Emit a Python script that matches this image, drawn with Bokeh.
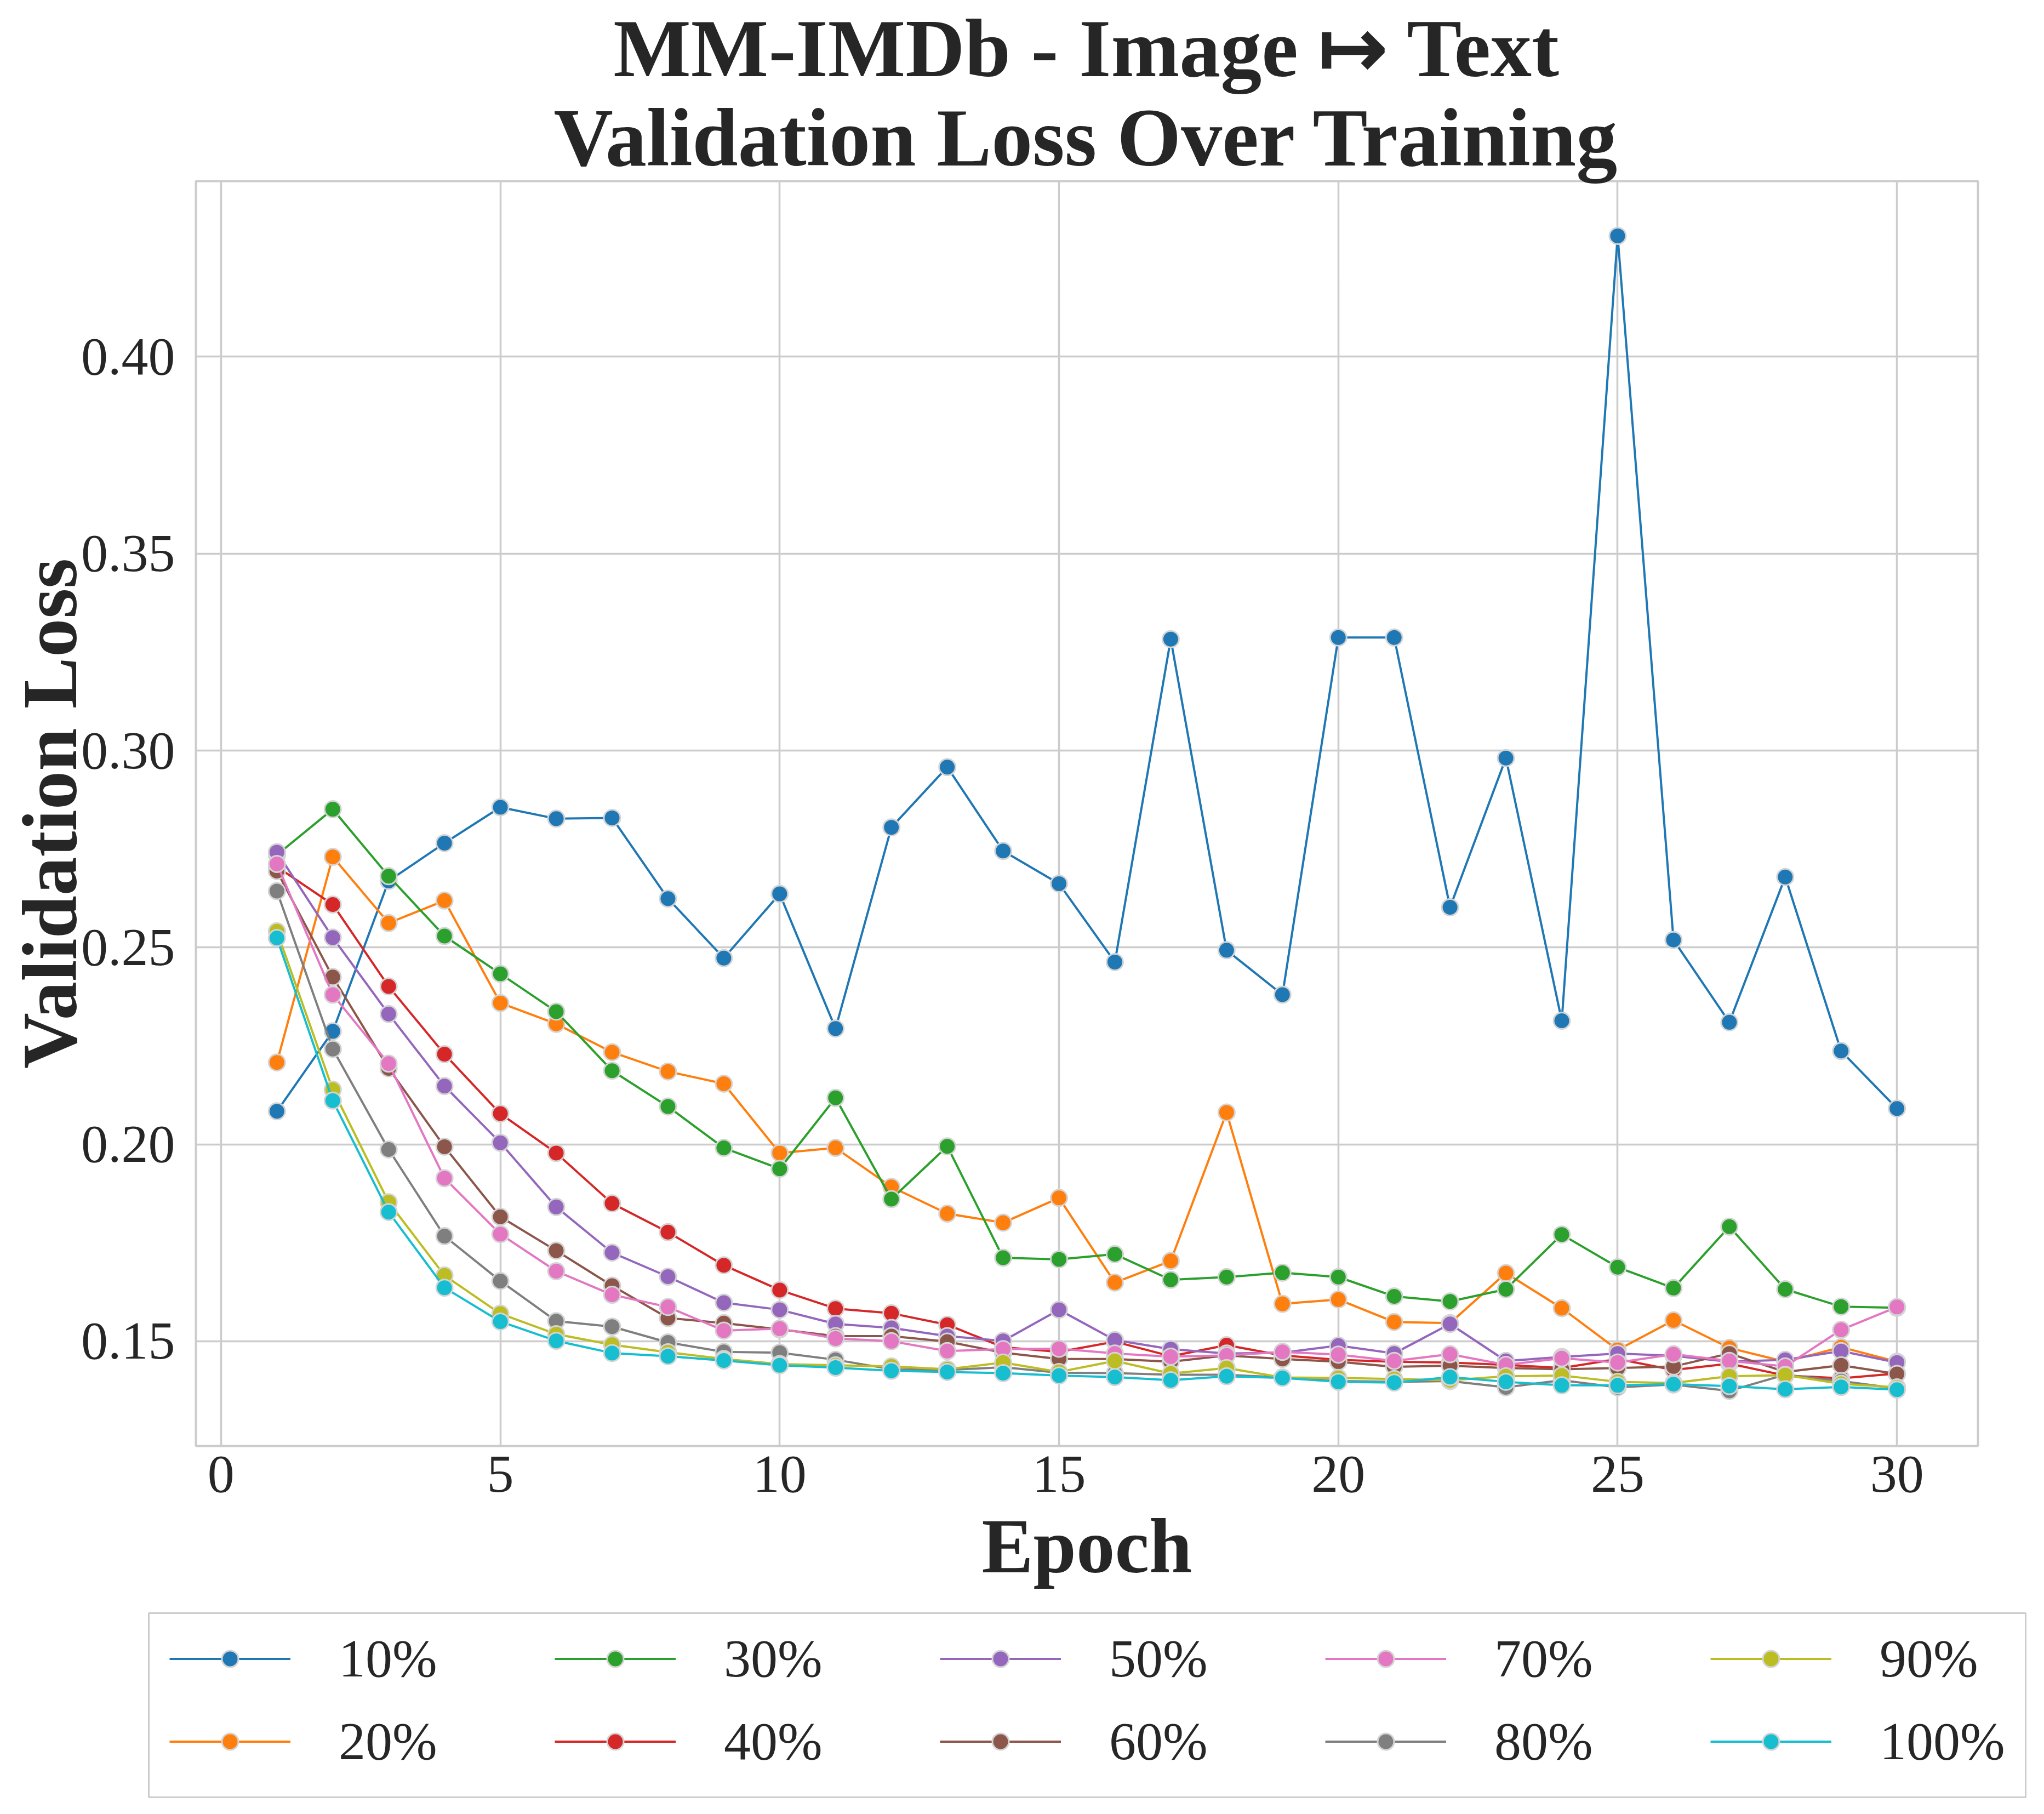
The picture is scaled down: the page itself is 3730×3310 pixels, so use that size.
from bokeh.plotting import figure
from bokeh.layouts import column
from bokeh.models import (Legend, LegendItem, Title, Range1d, FixedTicker, ColumnDataSource,
                          BoxAnnotation)
from bokeh.embed import file_html
from bokeh.resources import INLINE

# ---------------- data ----------------
epochs = list(range(1, 31))

loss_10 = [0.2084, 0.2287, 0.2669, 0.2765, 0.2856, 0.2827, 0.2829, 0.2624, 0.2473, 0.2636,
           0.2294, 0.2805, 0.2958, 0.2745, 0.2662, 0.2463, 0.3283, 0.2493, 0.2380, 0.3287,
           0.3287, 0.2602, 0.2981, 0.2314, 0.4307, 0.2519, 0.2310, 0.2679, 0.2237, 0.2091]
loss_20 = [0.2208, 0.2730, 0.2562, 0.2619, 0.2359, 0.2306, 0.2234, 0.2185, 0.2154, 0.1978,
           0.1991, 0.1892, 0.1824, 0.1801, 0.1864, 0.1649, 0.1704, 0.2081, 0.1595, 0.1606,
           0.1549, 0.1546, 0.1673, 0.1584, 0.1478, 0.1553, 0.1483, 0.1448, 0.1485, 0.1448]
loss_30 = [0.2735, 0.2851, 0.2681, 0.2529, 0.2433, 0.2337, 0.2187, 0.2096, 0.1991, 0.1938,
           0.2118, 0.1861, 0.1995, 0.1712, 0.1708, 0.1721, 0.1656, 0.1663, 0.1674, 0.1663,
           0.1614, 0.1601, 0.1632, 0.1771, 0.1688, 0.1635, 0.1791, 0.1632, 0.1588, 0.1585]
loss_40 = [0.2705, 0.2609, 0.2401, 0.2229, 0.2078, 0.1978, 0.1850, 0.1777, 0.1693, 0.1630,
           0.1583, 0.1571, 0.1542, 0.1485, 0.1473, 0.1499, 0.1462, 0.1490, 0.1464, 0.1453,
           0.1448, 0.1446, 0.1440, 0.1432, 0.1455, 0.1427, 0.1443, 0.1413, 0.1406, 0.1418]
loss_50 = [0.2742, 0.2525, 0.2331, 0.2148, 0.2004, 0.1841, 0.1725, 0.1664, 0.1598, 0.1580,
           0.1544, 0.1534, 0.1513, 0.1501, 0.1580, 0.1503, 0.1480, 0.1469, 0.1471, 0.1489,
           0.1469, 0.1544, 0.1450, 0.1460, 0.1469, 0.1463, 0.1448, 0.1453, 0.1475, 0.1446]
loss_60 = [0.2694, 0.2425, 0.2193, 0.1994, 0.1816, 0.1730, 0.1641, 0.1559, 0.1546, 0.1530,
           0.1513, 0.1513, 0.1499, 0.1471, 0.1455, 0.1455, 0.1448, 0.1464, 0.1455, 0.1448,
           0.1435, 0.1438, 0.1432, 0.1429, 0.1432, 0.1436, 0.1469, 0.1422, 0.1439, 0.1417]
loss_70 = [0.2712, 0.2380, 0.2205, 0.1914, 0.1772, 0.1678, 0.1618, 0.1587, 0.1527, 0.1532,
           0.1507, 0.1500, 0.1475, 0.1480, 0.1481, 0.1469, 0.1461, 0.1464, 0.1473, 0.1466,
           0.1450, 0.1467, 0.1440, 0.1457, 0.1446, 0.1467, 0.1450, 0.1436, 0.1529, 0.1587]
loss_80 = [0.2643, 0.2242, 0.1987, 0.1767, 0.1653, 0.1551, 0.1537, 0.1497, 0.1473, 0.1471,
           0.1453, 0.1429, 0.1427, 0.1434, 0.1420, 0.1419, 0.1415, 0.1415, 0.1408, 0.1399,
           0.1397, 0.1399, 0.1383, 0.1401, 0.1383, 0.1390, 0.1374, 0.1415, 0.1399, 0.1380]
loss_90 = [0.2541, 0.2139, 0.1853, 0.1667, 0.1570, 0.1518, 0.1491, 0.1472, 0.1455, 0.1442,
           0.1439, 0.1436, 0.1429, 0.1446, 0.1422, 0.1450, 0.1418, 0.1432, 0.1408, 0.1407,
           0.1404, 0.1401, 0.1411, 0.1413, 0.1397, 0.1394, 0.1411, 0.1414, 0.1392, 0.1383]
loss_100 = [0.2524, 0.2111, 0.1828, 0.1636, 0.1550, 0.1501, 0.1470, 0.1462, 0.1451, 0.1439,
            0.1433, 0.1425, 0.1422, 0.1419, 0.1413, 0.1409, 0.1401, 0.1411, 0.1407, 0.1397,
            0.1395, 0.1409, 0.1397, 0.1388, 0.1388, 0.1391, 0.1386, 0.1378, 0.1384, 0.1377]

series_labels = ["10%", "20%", "30%", "40%", "50%", "60%", "70%", "80%", "90%", "100%"]
series_values = [loss_10, loss_20, loss_30, loss_40, loss_50, loss_60, loss_70, loss_80, loss_90, loss_100]

x_ticks = [0, 5, 10, 15, 20, 25, 30]
x_tick_labels = ["0", "5", "10", "15", "20", "25", "30"]
y_ticks = [0.15, 0.20, 0.25, 0.30, 0.35, 0.40]
y_tick_labels = ["0.15", "0.20", "0.25", "0.30", "0.35", "0.40"]

title_line1 = "MM-IMDb - Image \u21a6 Text"
title_line2 = "Validation Loss Over Training"
x_label = "Epoch"
y_label = "Validation Loss"

# ---------------- style / layout ----------------
colors = ["#1f77b4", "#ff7f0e", "#2ca02c", "#d62728", "#9467bd",
          "#8c564b", "#e377c2", "#7f7f7f", "#bcbd22", "#17becf"]
FONT = "Liberation Serif"
TEXT = "#262626"
GRID = "#cccccc"

W, H = 3730, 3310
H_MAIN = 2913                      # main figure; legend strip below it
H_LEG = H - H_MAIN
BL, BR, BT = 357, 121, 330
BB = H_MAIN - 2638

p = figure(width=W, height=H_MAIN, output_backend="svg", toolbar_location=None,
           x_range=Range1d(-0.45, 31.45), y_range=Range1d(0.1234, 0.4446),
           min_border_left=BL, min_border_right=BR, min_border_top=BT,
           min_border_bottom=BB, title=None, frame_align=False)
p.background_fill_color = "white"
p.border_fill_color = "white"
p.outline_line_color = GRID
p.outline_line_width = 4

p.grid.grid_line_color = GRID
p.grid.grid_line_width = 3.5

p.xaxis.ticker = FixedTicker(ticks=x_ticks)
p.xaxis.major_label_overrides = {t: s for t, s in zip(x_ticks, x_tick_labels)}
p.yaxis.ticker = FixedTicker(ticks=y_ticks)
p.yaxis.major_label_overrides = {t: s for t, s in zip(y_ticks, y_tick_labels)}
p.xgrid.ticker = FixedTicker(ticks=x_ticks)
p.ygrid.ticker = FixedTicker(ticks=y_ticks)

for ax in (p.xaxis, p.yaxis):
    ax.axis_line_color = None
    ax.major_tick_line_color = None
    ax.minor_tick_line_color = None
    ax.major_tick_out = 0
    ax.major_tick_in = 0
    ax.major_label_text_font = FONT
    ax.major_label_text_font_size = "98px"
    ax.major_label_text_color = TEXT
    ax.axis_label_text_font = FONT
    ax.axis_label_text_font_size = "141px"
    ax.axis_label_text_font_style = "bold"
    ax.axis_label_text_color = TEXT

p.xaxis.axis_label = x_label
p.yaxis.axis_label = y_label
p.xaxis.major_label_standoff = 19
p.yaxis.major_label_standoff = 38
p.xaxis.axis_label_standoff = 18
p.yaxis.axis_label_standoff = -24

# two-line bold title (second line added first: it sits next to the frame)
p.add_layout(Title(text=title_line2, align="center", text_font=FONT, text_font_size="150px",
                   text_font_style="bold", text_color=TEXT, standoff=-7), "above")
p.add_layout(Title(text=title_line1, align="center", text_font=FONT, text_font_size="150px",
                   text_font_style="bold", text_color=TEXT, standoff=-2), "above")

sources = {}
for lab, vals, col in zip(series_labels, series_values, colors):
    src = ColumnDataSource(dict(epoch=epochs, loss=vals))
    sources[lab] = src
    p.line("epoch", "loss", source=src, line_color=col, line_width=4)
    p.scatter("epoch", "loss", source=src, marker="circle", size=30,
              fill_color=col, line_color="#d4d4d4", line_width=3)

# ---------------- legend strip (2 rows x 5 columns, column by column) ----------------
# its ranges lie outside the data, so only the legend entries show
q = figure(width=W, height=H_LEG, output_backend="svg", toolbar_location=None,
           x_axis_type=None, y_axis_type=None, min_border=0, title=None,
           x_range=Range1d(-20, -19), y_range=Range1d(-20, -19), frame_align=False)
q.background_fill_color = "white"
q.border_fill_color = "white"
q.outline_line_color = None
q.grid.visible = False

proxies = {}
for lab, col in zip(series_labels, colors):
    lr = q.line("epoch", "loss", source=sources[lab], line_color=col, line_width=4)
    sr = q.scatter("epoch", "loss", source=sources[lab], marker="circle", size=30,
                   fill_color=col, line_color="#d4d4d4", line_width=3)
    proxies[lab] = [lr, sr]

q.add_layout(BoxAnnotation(left=271, right=3696, bottom=31, top=H_LEG - 30,
                           left_units="screen", right_units="screen",
                           bottom_units="screen", top_units="screen",
                           fill_color="white", fill_alpha=1.0,
                           line_color=GRID, line_width=3, line_alpha=1.0))

ITEM_H, SPACING = 122, 29
GLYPH_H = 75
LEG_H = 2 * ITEM_H + SPACING
leg_y = H_LEG - 52 - LEG_H

def make_legend(labels, x, label_width):
    return Legend(items=[LegendItem(label=l, renderers=proxies[l]) for l in labels],
                  orientation="horizontal", ncols=len(labels) // 2, location=(x, leg_y),
                  label_text_font=FONT, label_text_font_size="98px", label_text_color=TEXT,
                  glyph_width=221, glyph_height=GLYPH_H, label_height=ITEM_H,
                  label_width=label_width, label_standoff=88, spacing=SPACING,
                  padding=0, margin=0, border_line_color=None,
                  background_fill_alpha=0.0)

left_labels = series_labels[0:8]
order_a = left_labels[0::2] + left_labels[1::2]
q.add_layout(make_legend(order_a, 309, 703 - SPACING - 221 - 88))
q.add_layout(make_legend(series_labels[8:10], 309 + 4 * 703, 20))

layout = column(p, q, spacing=0)
open("out.html", "w").write(file_html(layout, INLINE))
